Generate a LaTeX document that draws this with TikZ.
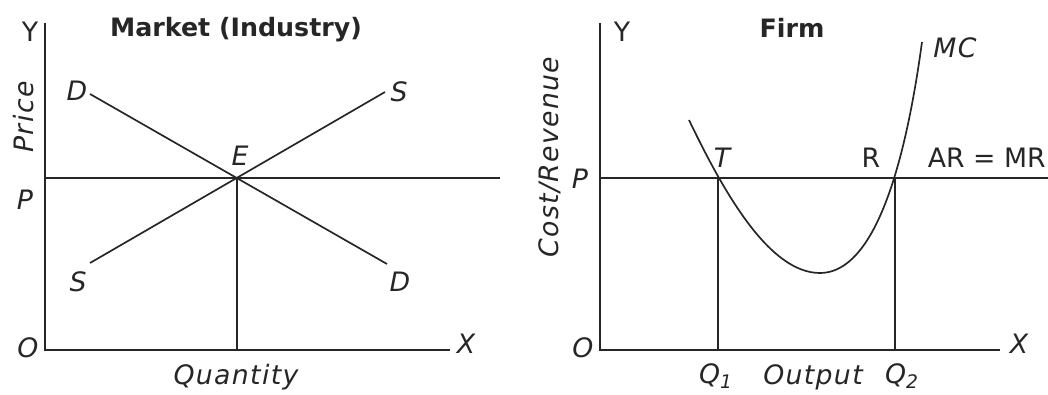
\documentclass[tikz,border=0pt]{standalone}
\usepackage{fontspec}
\setmainfont{DejaVu Sans}
\begin{document}
\begin{tikzpicture}[x=0.025cm,y=-0.025cm,
  ln/.style={line width=1.4pt,black!85},
  crv/.style={line width=1.2pt,black!85},
  lbl/.style={font=\fontsize{19}{21}\selectfont\itshape\addfontfeature{LetterSpace=5},inner sep=0pt,text=black!85},
  ulbl/.style={font=\fontsize{19}{21}\selectfont,inner sep=0pt,text=black!85},
  ttl/.style={font=\fontsize{18}{20}\selectfont\bfseries,inner sep=0pt,text=black!85}]
\useasboundingbox (0,0) rectangle (1048,395);
% ---------- left panel ----------
\coordinate (LO) at (45,350);
\coordinate (LY) at (45,23);
\coordinate (LX) at (450,350);
\coordinate (LP) at (45,178);
\coordinate (LPe) at (500,178);
\coordinate (E) at (237,178);
\coordinate (EQ) at (237,350);
\coordinate (D1) at (90,94);
\coordinate (D2) at (387,264);
\coordinate (S1) at (90,263);
\coordinate (S2) at (385,92);
\draw[ln] (LY) -- (LO) -- (LX);
\draw[ln] (LP) -- (LPe);
\draw[ln] (E) -- (EQ);
\draw[crv] (D1) -- (D2);
\draw[crv] (S1) -- (S2);
\node[ulbl] (lyl) at (30,32) {Y};
\node[lbl] (lxl) at (466,344) {X};
\node[lbl] (lol) at (28,348) {O};
\node[lbl] (lpl) at (25,200) {P};
\node[lbl,rotate=90] (price) at (24,117) {Price};
\node[ttl] (mkt) at (236,30) {Market (Industry)};
\node[lbl] (qty) at (236,377) {Quantity};
\node[lbl] (dl1) at (77,91) {D};
\node[lbl] (sl1) at (399,92) {S};
\node[lbl] (sl2) at (78,282) {S};
\node[lbl] (dl2) at (400,282) {D};
\node[lbl] (el) at (240,156) {E};
% ---------- right panel ----------
\coordinate (RO) at (600,350);
\coordinate (RY) at (600,23);
\coordinate (RX) at (1000,350);
\coordinate (RP) at (600,178);
\coordinate (RPe) at (1048,178);
\coordinate (T) at (718,178);
\coordinate (TQ) at (718,350);
\coordinate (R) at (895,178);
\coordinate (RQ) at (895,350);
\coordinate (MCa) at (689,120);
\coordinate (MCm) at (820,273);
\coordinate (MCb) at (922,42);
\draw[ln] (RY) -- (RO) -- (RX);
\draw[ln] (RP) -- (RPe);
\draw[ln] (T) -- (TQ);
\draw[ln] (R) -- (RQ);
\draw[crv] (MCa) .. controls (725,195) and (770,273) .. (MCm)
                 .. controls (866,273) and (901,196) .. (MCb);
\node[ulbl] (ryl) at (622,32) {Y};
\node[lbl] (rxl) at (1019,344) {X};
\node[lbl] (rol) at (583,348) {O};
\node[lbl] (rpl) at (580,179) {P};
\node[lbl,rotate=90] (cr) at (550,157) {Cost/Revenue};
\node[ttl] (firm) at (792,28) {Firm};
\node[lbl] (tl) at (722,158) {T};
\node[ulbl] (rl) at (871,158) {R};
\node[ulbl,anchor=east] (armr) at (1046,158) {AR = MR};
\node[lbl] (mcl) at (955,48) {MC};
\node[lbl] (q1) at (716,376) {Q\textsubscript{1}};
\node[lbl] (out) at (813,377) {Output};
\node[lbl] (q2) at (902,376) {Q\textsubscript{2}};
\end{tikzpicture}
\end{document}
